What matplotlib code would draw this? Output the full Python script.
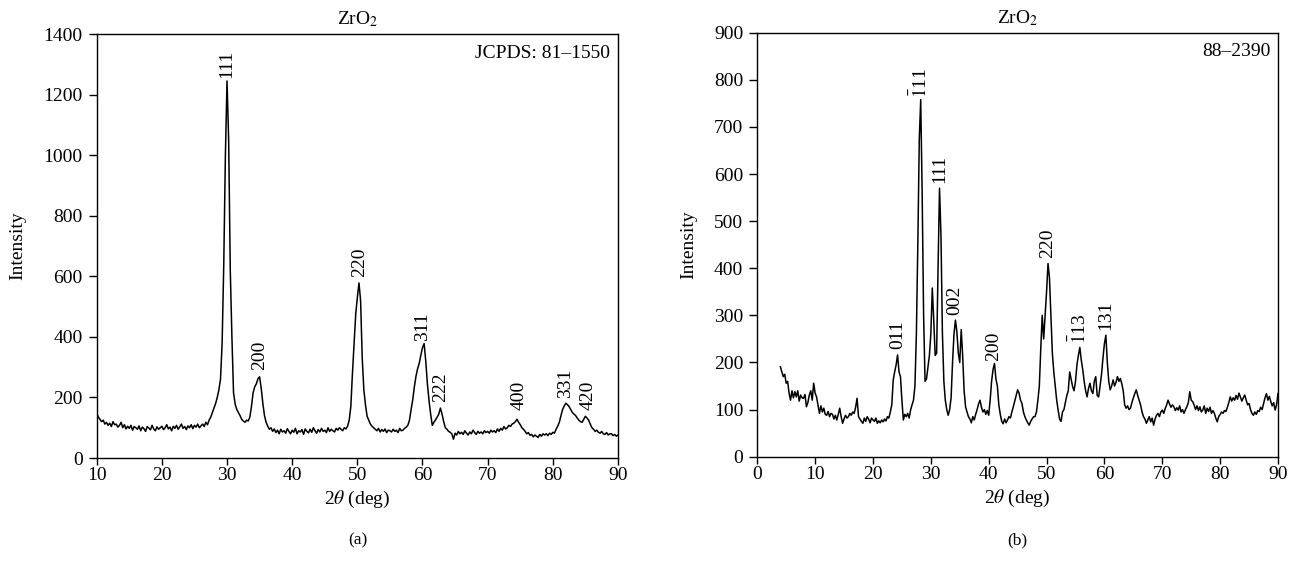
import numpy as np
import matplotlib
matplotlib.use("Agg")
import matplotlib.pyplot as plt

plt.rcParams['font.family'] = ['Liberation Serif', 'DejaVu Serif']
plt.rcParams['mathtext.fontset'] = 'stix'

# ---------------- data ----------------
# Panel (a): 2theta from 10 to 90 deg, step 0.25
a_start, a_step = 10.0, 0.25
a_intensity = [
    148,135,128,120, 125,112,118,108, 115,104,120,110, 112,102,108,118, 100,110,96,105,
    98,108,92,104, 100,95,106,90, 102,97,88,104, 99,93,108,96, 90,103,95,100,
    105,94,100,110, 96,102,90,105, 98,108,95,103, 112,98,104,94, 106,100,110,97,
    108,102,112,100, 106,112,104,118, 110,125,135,150, 165,180,200,225, 260,380,640,1000,
    1245,1050,620,400, 215,178,160,150, 140,128,122,118, 125,122,135,170, 215,235,245,262,
    268,230,180,140, 118,105,95,100, 88,96,84,92, 80,95,86,90, 82,97,88,80,
    92,85,98,80, 90,86,94,78, 96,88,83,95, 85,100,90,82, 94,86,98,88,
    92,84,100,88, 95,90,86,98, 92,100,95,90, 100,96,105,125, 170,280,380,475,
    530,578,520,330, 225,175,138,125, 112,105,100,95, 90,98,86,94, 88,96,84,92,
    90,86,95,88, 92,84,98,90, 92,98,102,108, 125,160,192,235, 270,295,313,340,
    365,378,320,245, 190,145,108,118, 126,135,145,165, 145,120,100,95, 88,85,80,62,
    82,76,88,80, 85,78,90,82, 76,86,80,92, 84,78,88,82, 86,80,90,84,
    88,82,92,86, 90,84,96,88, 98,92,104,96, 100,108,104,112, 115,120,128,118,
    110,100,95,88, 80,84,75,78, 70,76,72,68, 78,72,80,76, 80,74,82,78,
    85,82,95,105, 118,140,160,172, 181,176,170,160, 150,145,140,132, 125,120,118,128,
    138,132,125,112, 100,95,88,92, 85,82,88,80, 78,84,76,80, 80,74,78,72,
    76,
]
a_labels = ['111', '200', '220', '311', '222', '400', '331', '420']
a_label_x = [30.0, 35.0, 50.3, 60.0, 62.8, 74.8, 82.0, 85.4]
a_label_y = [1255, 290, 598, 385, 185, 158, 197, 158]

# Panel (b): 2theta from 4 to 90 deg, step 0.25
b_start, b_step = 4.0, 0.25
b_intensity = [
    191,180,170,175,
    156,160,135,120, 140,125,138,127, 140,118,131,125, 124,132,106,115, 131,140,120,156,
    135,127,110,92, 108,95,103,90, 88,96,85,92, 90,80,88,78, 90,103,85,71,
    80,88,82,85, 92,88,95,92, 105,124,85,80, 75,71,82,75, 85,80,72,82,
    78,75,82,71, 76,72,78,74, 80,76,85,82, 95,110,163,180, 195,216,180,170,
    120,78,90,85, 92,82,99,110, 120,150,260,450, 672,758,560,300, 160,165,190,215,
    260,358,290,215, 220,403,570,470, 262,160,120,100, 88,100,125,200, 260,290,265,220,
    200,270,215,140, 106,95,85,80, 72,85,78,90, 100,112,120,105, 95,100,90,98,
    88,120,160,185, 198,165,150,110, 90,75,70,80, 72,78,85,82, 95,106,118,130,
    142,135,120,113, 95,85,78,72, 67,75,80,85, 85,95,120,150, 230,300,250,300,
    350,410,380,300, 220,180,150,120, 99,80,75,95, 100,115,130,140, 180,165,149,140,
    160,195,215,232, 205,185,160,140, 127,145,156,140, 134,160,170,130, 127,150,175,210,
    240,258,200,160, 142,150,163,150, 158,170,160,166, 155,140,110,103, 108,100,103,115,
    125,134,142,130, 120,110,95,85, 80,71,78,85, 74,82,67,80, 88,92,85,95,
    99,92,102,110, 120,112,105,110, 106,98,104,99, 108,95,100,92, 100,106,115,138,
    120,117,110,100, 108,98,106,95, 99,108,92,103, 96,105,92,98, 92,82,74,85,
    90,95,92,98, 96,105,115,127, 118,125,120,130, 122,135,127,118, 125,131,120,110,
    113,100,92,88, 95,90,98,96, 105,100,113,125, 134,120,128,117, 108,115,99,110,
    134,
]
b_labels = ['011', r'$\bar{1}$11', '111', '002', '200', '220', r'$\bar{1}$13', '131']
b_label_x = [24.2, 28.1, 31.5, 34.2, 40.9, 50.1, 55.7, 60.3]
b_label_y = [228, 762, 580, 300, 204, 422, 240, 268]

a_x = a_start + a_step * np.arange(len(a_intensity))
b_x = b_start + b_step * np.arange(len(b_intensity))

# ---------------- figure ----------------
fig = plt.figure(figsize=(12.98, 5.67), dpi=100)
axa = fig.add_axes([0.0745, 0.1922, 0.4016, 0.7478])
axb = fig.add_axes([0.5834, 0.1945, 0.4012, 0.7478])

FS = 14

def style(ax, xlim, xticks, ylim, yticks, ylab_x):
    ax.set_xlim(*xlim)
    ax.set_ylim(*ylim)
    ax.set_xticks(xticks)
    ax.set_yticks(yticks)
    ax.tick_params(direction='out', width=1, labelsize=FS,
                   top=False, right=False)
    ax.tick_params(axis='x', length=5, pad=1.5)
    ax.tick_params(axis='y', length=6, pad=4)
    for s in ax.spines.values():
        s.set_linewidth(1.0)
    ax.set_xlabel(r'2$\theta$ (deg)', fontsize=FS)
    ax.xaxis.set_label_coords(0.5, -0.073)
    ax.set_ylabel('Intensity', fontsize=FS)
    ax.yaxis.set_label_coords(ylab_x, 0.5)
    ax.set_title(r'ZrO$_2$', fontsize=FS, pad=7)

axa.plot(a_x, a_intensity, color='black', lw=1.1)
style(axa, (10, 90), range(10, 91, 10), (0, 1400), range(0, 1401, 200), -0.136)
for t, x, y in zip(a_labels, a_label_x, a_label_y):
    axa.text(x, y, t, rotation=90, ha='center', va='bottom', fontsize=FS)
axa.text(0.985, 0.975, 'JCPDS: 81–1550', transform=axa.transAxes,
         ha='right', va='top', fontsize=FS)

axb.plot(b_x, b_intensity, color='black', lw=1.1)
style(axb, (0, 90), range(0, 91, 10), (0, 900), range(0, 901, 100), -0.116)
for t, x, y in zip(b_labels, b_label_x, b_label_y):
    axb.text(x, y, t, rotation=90, ha='center', va='bottom', fontsize=FS)
axb.text(0.985, 0.975, '88–2390', transform=axb.transAxes,
         ha='right', va='top', fontsize=FS)

fig.text(0.2755, 0.047, '(a)', ha='center', va='center', fontsize=FS - 1.5)
fig.text(0.7840, 0.047, '(b)', ha='center', va='center', fontsize=FS - 1.5)

fig.savefig('out.png', dpi=100)
